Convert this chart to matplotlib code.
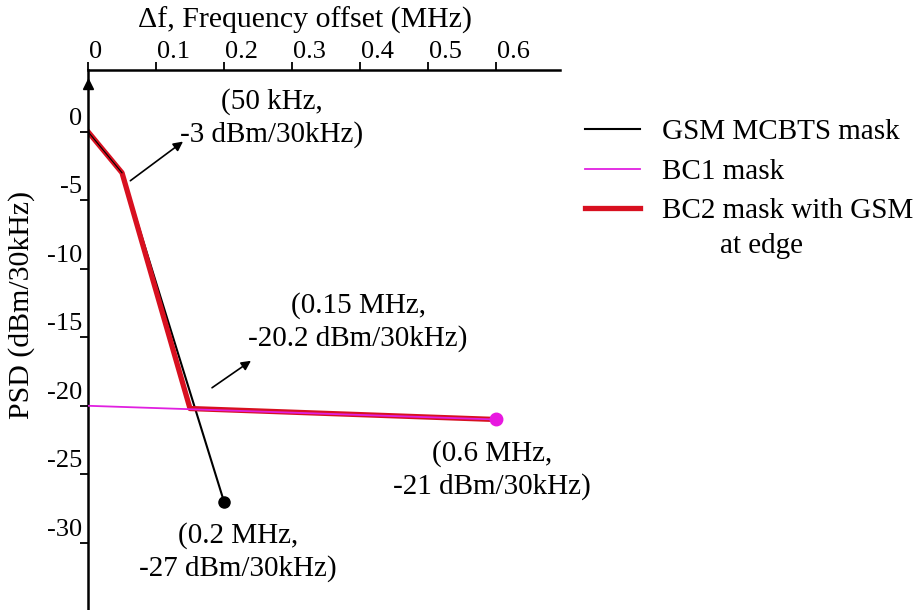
import matplotlib
matplotlib.use("Agg")
import matplotlib.pyplot as plt
from matplotlib.transforms import ScaledTranslation

plt.rcParams['font.family'] = ['Liberation Serif', 'DejaVu Serif']
plt.rcParams['axes.unicode_minus'] = False

# frequency offset (MHz) and PSD (dBm/30kHz)
gsm_f = [0, 0.05, 0.2]
gsm_psd = [0, -3, -27]
bc1_f = [0, 0.6]
bc1_psd = [-20, -21]
bc2_f = [0, 0.05, 0.15, 0.6]
bc2_psd = [0, -3, -20.2, -21]

xticks = [0, 0.1, 0.2, 0.3, 0.4, 0.5, 0.6]
xticklabels = ['0', '0.1', '0.2', '0.3', '0.4', '0.5', '0.6']
yticks = [0, -5, -10, -15, -20, -25, -30]

fs = 21      # annotations / legend
tfs = 19     # tick labels

fig = plt.figure(figsize=(9.17, 6.10), dpi=100)
ax = fig.add_axes([88/917, 0, (560-88)/917, 1 - 70/610])

ax.plot(gsm_f, gsm_psd, color='black', lw=1.5, label='GSM MCBTS mask', zorder=2)
ax.plot(gsm_f[-1], gsm_psd[-1], 'o', color='black', ms=8, zorder=4)
ax.plot(bc1_f, bc1_psd, color='#e020e0', lw=1.3, label='BC1 mask', zorder=3)
ax.plot(bc1_f[-1], bc1_psd[-1], 'o', color='#e818e0', ms=9, zorder=4)
ax.plot(bc2_f, bc2_psd, color='#d81020', lw=3.8, label='BC2 mask with GSM', zorder=2.5)
# keep black visible on top of red like the original
ax.plot(gsm_f[:2], gsm_psd[:2], color='black', lw=0.8, zorder=2.6)

ax.set_xlim(0, 0.694)
ax.set_ylim(-34.9, 4.5)

ax.spines['right'].set_visible(False)
ax.spines['bottom'].set_visible(False)
ax.spines['left'].set_linewidth(1.8)
ax.spines['top'].set_linewidth(1.8)

ax.xaxis.tick_top()
ax.xaxis.set_label_position('top')
ax.set_xticks(xticks)
ax.set_xticklabels(xticklabels)
ax.set_yticks(yticks)
ax.tick_params(axis='both', direction='out', length=6, width=1.3, labelsize=tfs)
ax.tick_params(axis='x', pad=-1)
ax.tick_params(axis='y', pad=-2)
for lbl in ax.get_xticklabels():
    lbl.set_ha('left')
    lbl.set_transform(lbl.get_transform() + ScaledTranslation(1/100, 0, fig.dpi_scale_trans))
for lbl in ax.get_yticklabels():
    lbl.set_va('bottom')
    lbl.set_transform(lbl.get_transform() + ScaledTranslation(0, 2/100, fig.dpi_scale_trans))

ax.set_xlabel('\u0394f, Frequency offset (MHz)', fontsize=21.5, va='center')
ax.xaxis.set_label_coords(0.46, 1 + 50/540)
ax.set_ylabel('PSD (dBm/30kHz)', fontsize=21.5, va='center')
ax.yaxis.set_label_coords(-66/472, 0.565)

# arrow at top of the y axis
ax.plot(0, 0.975, '^', color='black', ms=7, transform=ax.transAxes, clip_on=False)

# annotations
ax.text(0.27, 1.0, '(50 kHz,\n-3 dBm/30kHz)', ha='center', va='center',
        fontsize=fs, linespacing=1.3)
ax.annotate('', xy=(0.143, -0.6), xytext=(0.059, -3.7),
            arrowprops=dict(arrowstyle='-|>', color='black', lw=1.2, mutation_scale=14))
ax.text(0.397, -13.9, '(0.15 MHz,\n-20.2 dBm/30kHz)', ha='center', va='center',
        fontsize=fs, linespacing=1.3)
ax.annotate('', xy=(0.243, -16.6), xytext=(0.179, -18.8),
            arrowprops=dict(arrowstyle='-|>', color='black', lw=1.2, mutation_scale=14))
ax.text(0.594, -24.7, '(0.6 MHz,\n-21 dBm/30kHz)', ha='center', va='center',
        fontsize=fs, linespacing=1.3)
ax.text(0.22, -30.7, '(0.2 MHz,\n-27 dBm/30kHz)', ha='center', va='center',
        fontsize=fs, linespacing=1.3)

leg = ax.legend(loc='upper left', bbox_to_anchor=(585/917, 1 - 119/610),
                bbox_transform=fig.transFigure, frameon=False, fontsize=fs,
                borderpad=0, borderaxespad=0, handlelength=1.9,
                handletextpad=0.75, labelspacing=0.45)
fig.text(762/917, 1 - 246/610, 'at edge', ha='center', va='center', fontsize=fs)

fig.savefig('out.png', dpi=100)
